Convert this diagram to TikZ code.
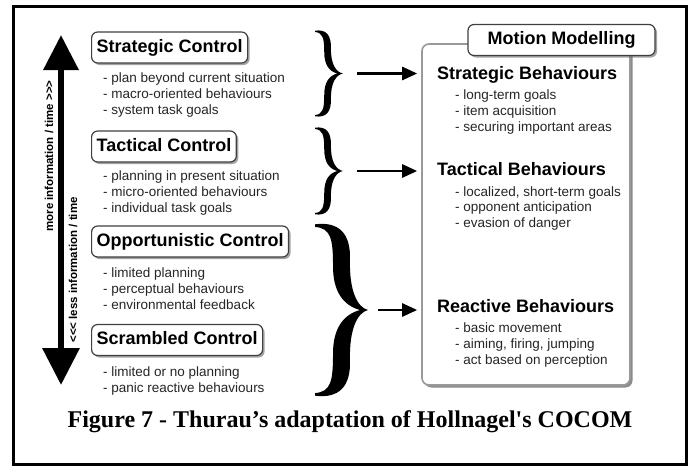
\documentclass[tikz,border=0pt]{standalone}
\usepackage{fontspec}
\setmainfont{Liberation Serif}[Ligatures=TeXOff]
\setsansfont{Liberation Sans}[Ligatures=TeXOff]
\usetikzlibrary{arrows.meta,shadows,calc}

\tikzset{
  boxshadow/.style={drop shadow={shadow xshift=2pt, shadow yshift=-2pt, fill=black!60, opacity=.6}},
  ctrl/.style={draw=black!75, line width=1.2pt, rounded corners=6pt, fill=white, boxshadow,
    font=\sffamily\bfseries\fontsize{18}{20}\selectfont,
    text height=13pt, text depth=4pt, inner xsep=5pt, inner ysep=7pt, anchor=west},
  head/.style={font=\sffamily\bfseries\fontsize{18}{20}\selectfont, inner sep=0pt, anchor=base west},
  itm/.style={font=\sffamily\fontsize{13.5}{16}\selectfont, text=black!85, inner sep=0pt, anchor=base west},
  side/.style={font=\sffamily\bfseries\fontsize{11.5}{13}\selectfont, rotate=90, inner sep=0pt},
  link/.style={line width=2.6pt, -{Triangle[length=15pt,width=13pt]}},
  panel/.style={draw=black!40, line width=1.6pt, rounded corners=7pt, fill=white,
    drop shadow={shadow xshift=2.5pt, shadow yshift=-2.5pt, fill=black!75, opacity=.6}},
}

% filled curly brace: name, left x, top y, bottom y, tip x, column position, half stroke width
\newcommand\curlyshape[7]{%
  \pgfmathsetmacro\cmid{(#3+#4)/2}%
  \pgfmathsetmacro\chalf{(#4-#3)/2}%
  \pgfmathsetmacro\cwid{#5-#2}%
  \def\bc{#6}\def\bw{#7}%
  \fill[shift={(#2,\cmid)}, xscale=\cwid, yscale=\chalf]
    (0,0.985) .. controls ({\bc*0.9},1.02) and ({\bc+\bw*1.1},0.88) .. ({\bc+\bw},0.58)
    .. controls ({\bc+\bw*0.9},0.22) and ({\bc+0.3},0.03) .. (1,0)
    .. controls ({\bc+0.3},-0.03) and ({\bc+\bw*0.9},-0.22) .. ({\bc+\bw},-0.58)
    .. controls ({\bc+\bw*1.1},-0.88) and ({\bc*0.9},-1.02) .. (0,-0.985)
    -- (0,-0.955)
    .. controls ({\bc*0.6},-0.94) and ({\bc-\bw},-0.82) .. ({\bc-\bw},-0.5)
    .. controls ({\bc-\bw},-0.2) and ({\bc+0.05},-0.05) .. ({\bc+0.35},0)
    .. controls ({\bc+0.05},0.05) and ({\bc-\bw},0.2) .. ({\bc-\bw},0.5)
    .. controls ({\bc-\bw},0.82) and ({\bc*0.6},0.94) .. (0,0.955) -- cycle;
  \coordinate (#1) at (#5,\cmid);
}

% one node per bullet line
\newcommand\itemlines[5]{% prefix, x, first baseline, line step, lines
  \foreach \t [count=\i] in {#5} {
    \node[itm] (#1-\i) at (#2, {#3+(\i-1)*#4}) {\t};
  }
}

\begin{document}
\begin{tikzpicture}[x=1pt, y=-1pt]
  \useasboundingbox (0,0) rectangle (694,466);
  \fill[white] (0,0) rectangle (694,466);
  \draw[line width=3pt] (13.5,6.5) rectangle (686.5,464.5);

  % information / time axis
  \coordinate (atop) at (61,35);
  \coordinate (abot) at (61,385);
  \draw[line width=6.5pt, {Triangle[length=37pt,width=36pt]}-{Triangle[length=35pt,width=34pt]}] (abot) -- (atop);
  \node[side] (more) at (49,156) {more information / time >>>};
  \node[side] (less) at (73,270) {<<< less information / time};

  % control levels
  \node[ctrl] (sc) at (91,47.5) {Strategic Control};
  \itemlines{sci}{103}{82}{16}{- plan beyond current situation, - macro-oriented behaviours, - system task goals}
  \node[ctrl] (tc) at (91,146.5) {Tactical Control};
  \itemlines{tci}{103}{180.5}{16}{- planning in present situation, - micro-oriented behaviours, - individual task goals}
  \node[ctrl] (oc) at (91,241.5) {Opportunistic Control};
  \itemlines{oci}{103}{277.5}{16}{- limited planning, - perceptual behaviours, - environmental feedback}
  \node[ctrl] (rc) at (91,340) {Scrambled Control};
  \itemlines{rci}{103}{376.5}{15.5}{- limited or no planning, - panic reactive behaviours}

  % braces grouping the levels
  \curlyshape{bt1}{315}{30}{117}{343}{0.45}{0.12}
  \curlyshape{bt2}{315}{127}{215}{343}{0.45}{0.12}
  \curlyshape{bt3}{315}{223}{397}{368}{0.5}{0.16}

  % motion modelling panel
  \node[panel, minimum width=208pt, minimum height=341pt] (mm) at (526,214.5) {};
  \node[ctrl, anchor=center, minimum width=187pt, minimum height=30pt] (mmtab) at (561.5,40) {Motion Modelling};

  \node[head] (sb) at (437,79) {Strategic Behaviours};
  \itemlines{sbi}{455}{99}{16}{- long-term goals, - item acquisition, - securing important areas}
  \node[head] (tb) at (437,175) {Tactical Behaviours};
  \itemlines{tbi}{455}{196}{15.5}{{- localized, short-term goals}, - opponent anticipation, - evasion of danger}
  \node[head] (rb) at (437,312.5) {Reactive Behaviours};
  \itemlines{rbi}{455}{332.5}{16}{- basic movement, {- aiming, firing, jumping}, - act based on perception}

  % arrows from the braces into the panel
  \draw[link] ([xshift=14pt]bt1) -- ([xshift=-4pt]bt1 -| mm.west);
  \draw[link] ([xshift=14pt]bt2) -- ([xshift=-4pt]bt2 -| mm.west);
  \draw[link] ([xshift=10pt]bt3) -- ([xshift=-4pt]bt3 -| mm.west);

  % caption
  \node[font=\rmfamily\bfseries\fontsize{24}{26}\selectfont, inner sep=0pt, anchor=base] (cap) at (350,427)
    {Figure 7 - Thurau’s adaptation of Hollnagel's COCOM};
\end{tikzpicture}
\end{document}
